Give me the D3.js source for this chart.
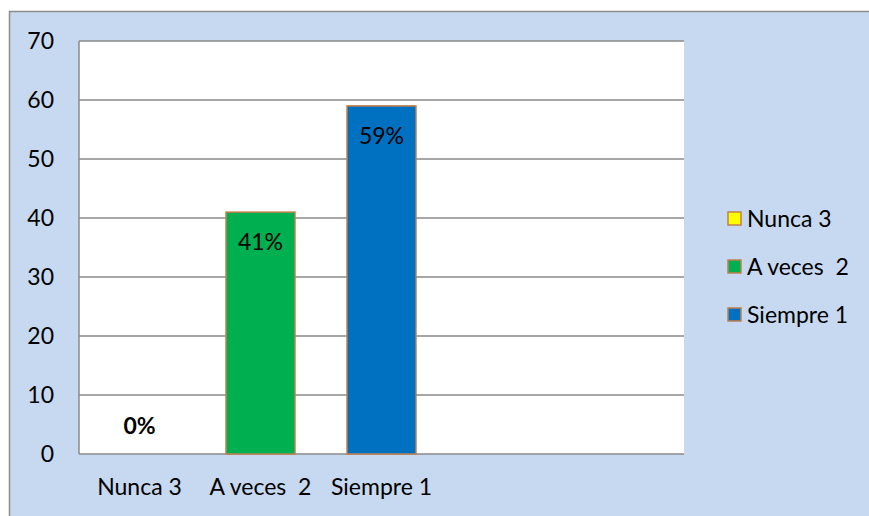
<!DOCTYPE html>
<html>
<head>
<meta charset="utf-8">
<script src="https://cdn.jsdelivr.net/npm/d3@7"></script>
<style>
  body { margin: 0; background: #fff; }
  text { font-family: Lato, "Open Sans", sans-serif; fill: #000; white-space: pre; }
</style>
</head>
<body>
<div class="vis-bars"></div>
<script>
const categories = ['Nunca 3', 'A veces  2', 'Siempre 1'];
const values = [0, 41, 59];
const pctLabels = ['0%', '41%', '59%'];
const seriesColors = ['#ffff00', '#00b050', '#0070c0'];
const yTicks = [0, 10, 20, 30, 40, 50, 60, 70];
const emptySlots = ['', ' '];

const draw = () => {
    const W = 869, H = 516;
    const margin = { top: 41, right: 185, bottom: 62, left: 79 };
    const width = W - margin.left - margin.right;
    const height = H - margin.top - margin.bottom;

    let svg = d3.select('.vis-bars')
        .append('svg')
        .attr('width', W)
        .attr('height', H);

    // chart frame
    svg.append('rect')
        .attr('x', 9.5).attr('y', 11.5)
        .attr('width', W).attr('height', H)
        .attr('fill', '#c6d9f0')
        .attr('stroke', '#8c8c8c')
        .attr('stroke-width', 1.5);

    let g = svg.append('g')
        .attr('transform', 'translate(' + margin.left + ',' + margin.top + ')');

    let x = d3.scaleBand()
        .domain(categories.concat(emptySlots))
        .range([0, width])
        .paddingInner(0.43)
        .paddingOuter(0.215);

    let y = d3.scaleLinear()
        .domain([0, 70])
        .range([height, 0]);

    g.append('rect')
        .attr('width', width).attr('height', height)
        .attr('fill', '#fff');

    // gridlines
    g.selectAll('.grid')
        .data(yTicks)
        .enter().append('line')
        .attr('x1', 0).attr('x2', width)
        .attr('y1', d => y(d)).attr('y2', d => y(d))
        .attr('stroke', '#8a8a8a')
        .attr('stroke-width', 1.5);

    g.append('line')
        .attr('x1', 0).attr('x2', 0)
        .attr('y1', 0).attr('y2', height)
        .attr('stroke', '#8a8a8a')
        .attr('stroke-width', 1.5);

    let yAxis = g.append('g')
        .call(d3.axisLeft(y).tickValues(yTicks).tickSize(0).tickPadding(25));
    yAxis.select('.domain').remove();
    yAxis.selectAll('text').style('font-size', '23px').style('font-family', 'Lato, sans-serif');

    let xAxis = g.append('g')
        .attr('transform', 'translate(0,' + height + ')')
        .call(d3.axisBottom(x).tickSize(0).tickPadding(25));
    xAxis.select('.domain').remove();
    xAxis.selectAll('text').style('font-size', '23px').style('font-family', 'Lato, sans-serif')
        .style('white-space', 'pre');

    g.selectAll('.bar')
        .data(values)
        .enter().append('rect')
        .attr('x', (d, i) => x(categories[i]))
        .attr('y', d => y(d))
        .attr('width', x.bandwidth())
        .attr('height', d => height - y(d))
        .attr('fill', (d, i) => seriesColors[i])
        .attr('stroke', '#c0804d')
        .attr('stroke-width', d => d > 0 ? 1.5 : 0);

    g.selectAll('.lbl')
        .data(values)
        .enter().append('text')
        .attr('x', (d, i) => x(categories[i]) + x.bandwidth() / 2)
        .attr('y', d => d > 0 ? y(d) + 38 : y(5) + 9)
        .attr('text-anchor', 'middle')
        .style('font-size', '23px')
        .style('font-weight', d => d > 0 ? 'normal' : 'bold')
        .text((d, i) => pctLabels[i]);

    let legendG = svg.selectAll('.legend')
        .data(categories)
        .enter().append('g')
        .attr('transform', (d, i) => 'translate(728,' + (219 + i * 48) + ')');

    legendG.append('rect')
        .attr('x', 0).attr('y', -7)
        .attr('width', 13).attr('height', 13)
        .attr('fill', (d, i) => seriesColors[i])
        .attr('stroke', '#c0804d')
        .attr('stroke-width', 1.5);

    legendG.append('text')
        .attr('x', 19).attr('y', 8)
        .style('font-size', '23px')
        .text(d => d);
};

draw();
</script>
</body>
</html>
